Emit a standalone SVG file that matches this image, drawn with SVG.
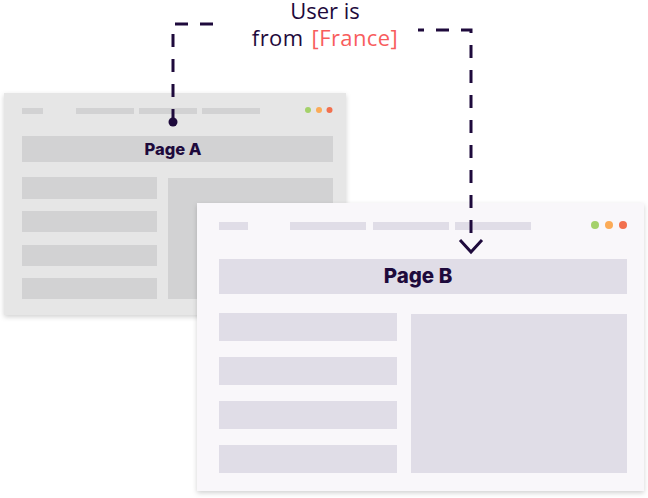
<svg xmlns="http://www.w3.org/2000/svg" width="648" height="498" viewBox="0 0 648 498">
  <defs>
    <filter id="shadow" x="-10%" y="-10%" width="120%" height="125%">
      <feDropShadow dx="0" dy="2" stdDeviation="2.5" flood-color="#000" flood-opacity="0.18"/>
    </filter>
  </defs>
  <style>
    .winA { fill: #e6e6e6; }
    .blkA { fill: #d2d2d3; }
    .winB { fill: #f9f7fa; }
    .blkB { fill: #e0dde7; }
    .title { font-family: "Inter", "Lato", sans-serif; font-weight: 800; fill: #1e0a3c; text-anchor: middle; }
    .label { font-family: "Open Sans", "Noto Sans", sans-serif; font-size: 22px; fill: #1e0a3c; text-anchor: middle; }
    .hl { fill: #f85d5d; }
    .conn { fill: none; stroke: #1e0a3c; stroke-width: 3; stroke-dasharray: 13 12; }
  </style>

  <!-- Page A browser window -->
  <g id="page-a">
    <rect class="winA" x="4" y="93" width="342" height="222" filter="url(#shadow)"/>
    <rect class="blkA" x="22" y="108" width="21" height="6"/>
    <rect class="blkA" x="76" y="108" width="58" height="6"/>
    <rect class="blkA" x="139" y="108" width="58" height="6"/>
    <rect class="blkA" x="202" y="108" width="58" height="6"/>
    <circle cx="308" cy="110" r="3" fill="#a4d16a"/>
    <circle cx="319" cy="110" r="3" fill="#fbab57"/>
    <circle cx="329.5" cy="110" r="3" fill="#f2704e"/>
    <rect class="blkA" x="22" y="136" width="311" height="26"/>
    <text class="title" x="173" y="154.5" font-size="16.5">Page A</text>
    <rect class="blkA" x="22" y="177" width="135" height="22"/>
    <rect class="blkA" x="22" y="211" width="135" height="21"/>
    <rect class="blkA" x="22" y="245" width="135" height="21"/>
    <rect class="blkA" x="22" y="278" width="135" height="21"/>
    <rect class="blkA" x="168" y="178" width="165" height="121"/>
  </g>

  <!-- Page B browser window -->
  <g id="page-b">
    <rect class="winB" x="197" y="203" width="447" height="288" filter="url(#shadow)"/>
    <rect class="blkB" x="219" y="222" width="29" height="8"/>
    <rect class="blkB" x="290" y="222" width="76" height="8"/>
    <rect class="blkB" x="373" y="222" width="76" height="8"/>
    <rect class="blkB" x="455" y="222" width="76" height="8"/>
    <circle cx="595" cy="225" r="4" fill="#a4d16a"/>
    <circle cx="609" cy="225" r="4" fill="#fbab57"/>
    <circle cx="623" cy="225" r="4" fill="#f2704e"/>
    <rect class="blkB" x="219" y="259" width="408" height="35"/>
    <text class="title" x="418" y="283" font-size="20.5">Page B</text>
    <rect class="blkB" x="219" y="313" width="178" height="28"/>
    <rect class="blkB" x="219" y="357" width="178" height="28"/>
    <rect class="blkB" x="219" y="401" width="178" height="28"/>
    <rect class="blkB" x="219" y="445" width="178" height="28"/>
    <rect class="blkB" x="411" y="314" width="216" height="159"/>
  </g>

  <!-- Redirect connector -->
  <g id="connectors">
    <circle cx="173" cy="122" r="4.5" fill="#1e0a3c"/>
    <path class="conn" d="M173 122 V24 H225"/>
    <path class="conn" d="M418 30 H471 V238" stroke-dashoffset="7"/>
    <path d="M460 240 L471 252 L482 240" fill="none" stroke="#1e0a3c" stroke-width="3"/>
  </g>

  <!-- Connector label -->
  <g id="label">
    <text class="label" x="325" y="18.5">User is</text>
    <text class="label" x="325" y="46" word-spacing="2" letter-spacing="0.4">from <tspan class="hl">[France]</tspan></text>
  </g>
</svg>
